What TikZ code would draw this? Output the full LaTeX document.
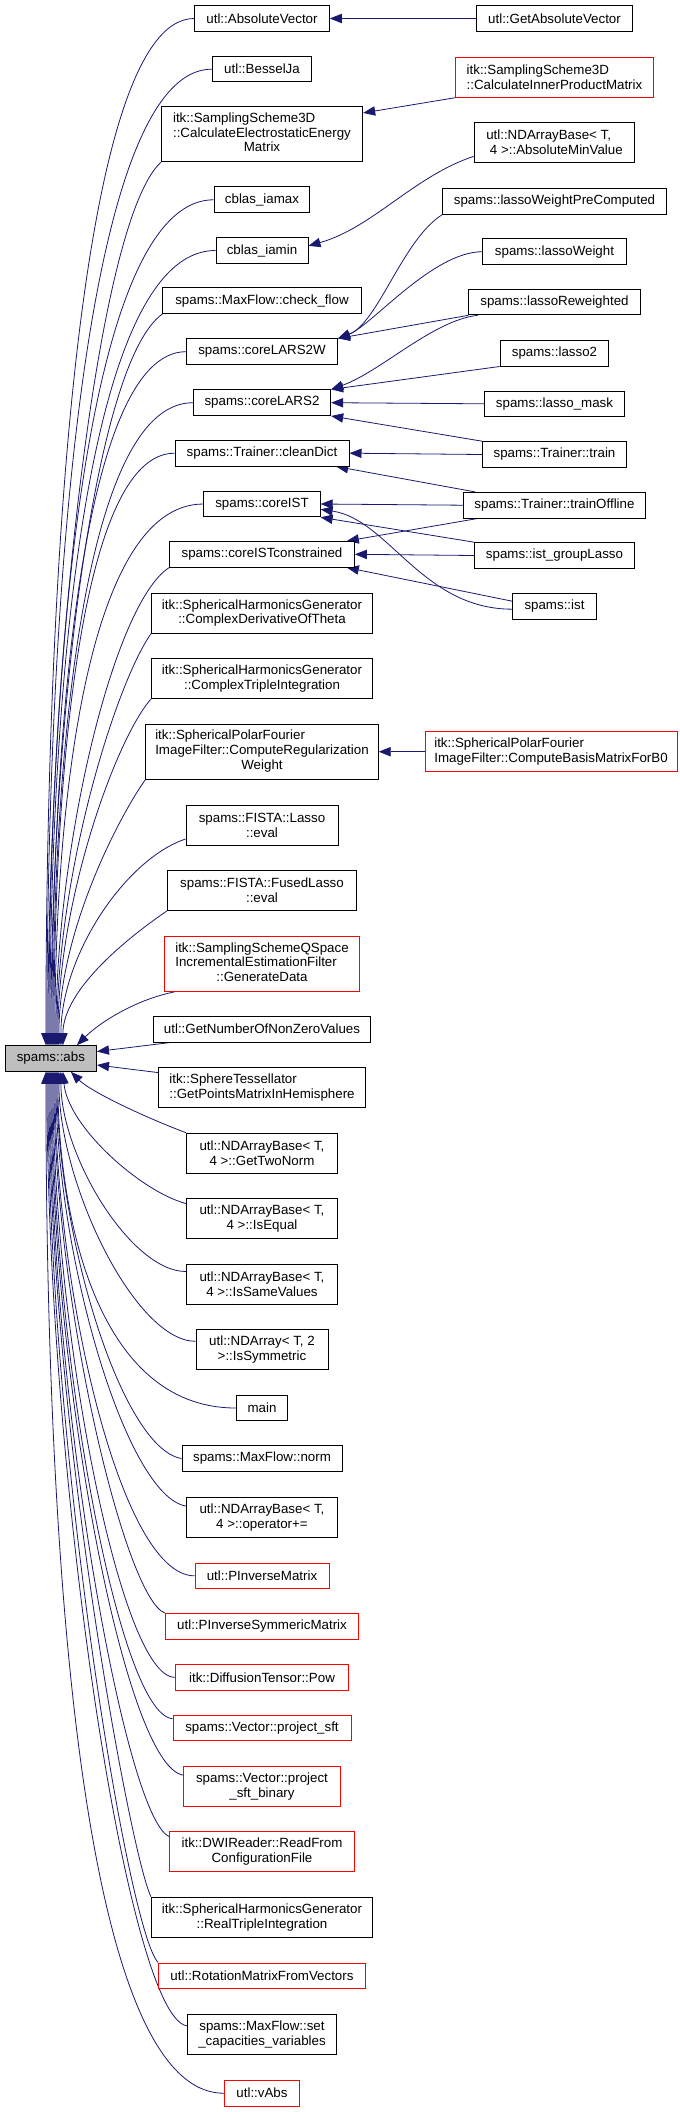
\documentclass[tikz,border=0pt]{standalone}
\usepackage{fontspec}
\setmainfont{Liberation Sans}
\usepackage{tikz}
\usetikzlibrary{calc,arrows.meta}
\pgfdeclarelayer{background}
\pgfsetlayers{background,main}

\definecolor{edgeblue}{HTML}{191970}
\definecolor{rootgray}{HTML}{BFBFBF}
\newcommand{\centerlast}[1]{\multicolumn{1}{@{}c@{}}{#1}}

\tikzset{
  fn/.style={draw=black, line width=0.75pt, fill=white, inner xsep=2pt, inner ysep=1pt,
    minimum height=19.2pt, font=\fontsize{10}{11}\selectfont, align=center},
  fnred/.style={fn, draw=red},
  two/.style={minimum height=30pt},
  three/.style={minimum height=41.3pt},
  call/.style={draw=edgeblue, line width=0.6pt, -{Triangle[length=9pt,width=7pt]}}
}

\begin{document}
\begin{tikzpicture}[x=0.75pt,y=0.75pt]
\useasboundingbox (0,0) rectangle (680,-2112);

% the function itself
\node[fn, fill=rootgray, minimum width=68.4pt] (abs) at (50.9,-1058.5) {spams::abs};

% direct callers
\node[fn, minimum width=101pt] (absvec) at (262,-18.5) {utl::AbsoluteVector};
\node[fn, minimum width=74.6pt] (bessel) at (262,-69.2) {utl::BesselJa};
\node[fn, three, minimum width=151pt] (electro) at (262,-134.3)
  {\begin{tabular}{@{}l@{}}itk::SamplingScheme3D\\::CalculateElectrostaticEnergy\\\centerlast{Matrix}\end{tabular}};
\node[fn, minimum width=71.7pt] (iamax) at (262,-199.8) {cblas\_iamax};
\node[fn, minimum width=69pt] (iamin) at (262,-250.5) {cblas\_iamin};
\node[fn, minimum width=148.7pt] (checkflow) at (262,-300.7) {spams::MaxFlow::check\_flow};
\node[fn, minimum width=113.3pt] (lars2w) at (262,-351.7) {spams::coreLARS2W};
\node[fn, minimum width=103pt] (lars2) at (262,-402.7) {spams::coreLARS2};
\node[fn, minimum width=130.5pt] (cleandict) at (262,-453.2) {spams::Trainer::cleanDict};
\node[fn, minimum width=87.2pt] (coreist) at (262,-504) {spams::coreIST};
\node[fn, minimum width=138.5pt] (istcons) at (262,-554.3) {spams::coreISTconstrained};
\node[fn, two, minimum width=165.8pt] (cderiv) at (262,-613.2) {itk::SphericalHarmonicsGenerator\\::ComplexDerivativeOfTheta};
\node[fn, two, minimum width=165.8pt] (ctriple) at (262,-678.5) {itk::SphericalHarmonicsGenerator\\::ComplexTripleIntegration};
\node[fn, three, minimum width=174.3pt] (regweight) at (262,-751.7)
  {\begin{tabular}{@{}l@{}}itk::SphericalPolarFourier\\ImageFilter::ComputeRegularization\\\centerlast{Weight}\end{tabular}};
\node[fn, two, minimum width=114pt] (fistalasso) at (262,-825.2) {spams::FISTA::Lasso\\::eval};
\node[fn, two, minimum width=141.8pt] (fused) at (262,-890.4) {spams::FISTA::FusedLasso\\::eval};
\node[fnred, three, minimum width=146.3pt] (gendata) at (262,-963.8)
  {\begin{tabular}{@{}l@{}}itk::SamplingSchemeQSpace\\IncrementalEstimationFilter\\\centerlast{::GenerateData}\end{tabular}};
\node[fn, minimum width=162.8pt] (nonzero) at (262,-1029.2) {utl::GetNumberOfNonZeroValues};
\node[fn, two, align=left, minimum width=155.6pt] (sphere) at (262,-1087.7) {itk::SphereTessellator\\::GetPointsMatrixInHemisphere};
\node[fn, two, minimum width=113.3pt] (twonorm) at (262,-1153.2) {utl::NDArrayBase< T,\\4 >::GetTwoNorm};
\node[fn, two, minimum width=113.3pt] (isequal) at (262,-1218.7) {utl::NDArrayBase< T,\\4 >::IsEqual};
\node[fn, two, minimum width=113.3pt] (issame) at (262,-1284) {utl::NDArrayBase< T,\\4 >::IsSameValues};
\node[fn, two, minimum width=99pt] (issym) at (262,-1349.3) {utl::NDArray< T, 2\\>::IsSymmetric};
\node[fn, minimum width=38.5pt] (main) at (262,-1408) {main};
\node[fn, minimum width=120pt] (norm) at (262,-1458.5) {spams::MaxFlow::norm};
\node[fn, two, minimum width=113.3pt] (opplus) at (262,-1517.2) {utl::NDArrayBase< T,\\4 >::operator+=};
\node[fnred, minimum width=100.5pt] (pinv) at (262,-1575.8) {utl::PInverseMatrix};
\node[fnred, minimum width=145pt] (pinvsym) at (262,-1626.3) {utl::PInverseSymmericMatrix};
\node[fnred, minimum width=130pt] (pow) at (262,-1677.3) {itk::DiffusionTensor::Pow};
\node[fnred, minimum width=133.5pt] (projsft) at (262,-1728) {spams::Vector::project\_sft};
\node[fnred, two, minimum width=117.5pt] (projbin) at (262,-1786.3) {spams::Vector::project\\\_sft\_binary};
\node[fnred, two, minimum width=138.5pt] (readfrom) at (262,-1851.7) {itk::DWIReader::ReadFrom\\ConfigurationFile};
\node[fn, two, minimum width=165.8pt] (realtriple) at (262,-1917.2) {itk::SphericalHarmonicsGenerator\\::RealTripleIntegration};
\node[fnred, minimum width=155pt] (rotmat) at (262,-1975.8) {utl::RotationMatrixFromVectors};
\node[fn, two, minimum width=112.1pt] (setcap) at (262,-2034.3) {spams::MaxFlow::set\\\_capacities\_variables};
\node[fnred, minimum width=56.6pt] (vabs) at (262,-2093.2) {utl::vAbs};

% second level callers
\node[fn, minimum width=117.2pt] (getabsvec) at (554.5,-18.5) {utl::GetAbsoluteVector};
\node[fnred, two, align=left, minimum width=148.1pt] (innerprod) at (554.5,-77.2) {itk::SamplingScheme3D\\::CalculateInnerProductMatrix};
\node[fn, two, align=left, minimum width=120.5pt] (absmin) at (554.5,-142.5) {utl::NDArrayBase< T,\\\ 4 >::AbsoluteMinValue};
\node[fn, minimum width=167.3pt] (lwpc) at (554.5,-201.2) {spams::lassoWeightPreComputed};
\node[fn, minimum width=107.3pt] (lw) at (554.5,-251.7) {spams::lassoWeight};
\node[fn, minimum width=128.3pt] (lrw) at (554.5,-302) {spams::lassoReweighted};
\node[fn, minimum width=81.6pt] (lasso2) at (554.5,-353.2) {spams::lasso2};
\node[fn, minimum width=105.3pt] (lassomask) at (554.5,-403.8) {spams::lasso\_mask};
\node[fn, minimum width=107.9pt] (train) at (554.5,-454.5) {spams::Trainer::train};
\node[fn, minimum width=136.5pt] (trainoff) at (554.5,-505.2) {spams::Trainer::trainOffline};
\node[fn, minimum width=119.7pt] (istgroup) at (554.5,-555.5) {spams::ist\_groupLasso};
\node[fn, minimum width=62.9pt] (ist) at (554.5,-606.5) {spams::ist};
\node[fnred, two, align=left, minimum width=189pt] (basisb0) at (551,-751.7) {itk::SphericalPolarFourier\\ImageFilter::ComputeBasisMatrixForB0};

\begin{pgfonlayer}{background}
% callers above spams::abs
\draw[call] (absvec.west) .. controls +(-120,0) and +(0,431) .. ($(abs.north)+(-5,0)$);
\draw[call] (bessel.west) .. controls +(-132,0) and +(0,410) .. ($(abs.north)+(-4,0)$);
\draw[call] (electro.south west) .. controls +(-65,-60) and +(0,371) .. ($(abs.north)+(-3,0)$);
\draw[call] (iamax.west) .. controls +(-132,0) and +(0,355) .. ($(abs.north)+(-2,0)$);
\draw[call] (iamin.west) .. controls +(-133,0) and +(0,334) .. ($(abs.north)+(-1,0)$);
\draw[call] (checkflow.south west) .. controls +(-70,-50) and +(0,308) .. (abs.north);
\draw[call] (lars2w.west) .. controls +(-107,0) and +(0,291) .. ($(abs.north)+(1,0)$);
\draw[call] (lars2.west) .. controls +(-112,0) and +(0,270) .. ($(abs.north)+(2,0)$);
\draw[call] (cleandict.west) .. controls +(-97,0) and +(0,249) .. ($(abs.north)+(3,0)$);
\draw[call] (coreist.west) .. controls +(-119,0) and +(0,228) .. ($(abs.north)+(4,0)$);
\draw[call] (istcons.south west) .. controls +(-55,-35) and +(0,201) .. ($(abs.north)+(5,0)$);
\draw[call] (cderiv.south west) .. controls +(-35,-50) and +(0,173) .. ($(abs.north)+(6,0)$);
\draw[call] (ctriple.south west) .. controls +(-35,-40) and +(0,146) .. ($(abs.north)+(7,0)$);
\draw[call] (regweight.south west) .. controls +(-25,-35) and +(0,115) .. ($(abs.north)+(8,0)$);
\draw[call] ([yshift=5pt]fistalasso.south west) .. controls +(-60,-20) and +(0,90) .. ($(abs.north)+(10,0)$);
\draw[call] (fused.south west) .. controls +(-25,-17) and +(0,60) .. ($(abs.north)+(12,0)$);
\draw[call] ([xshift=8pt]gendata.south west) .. controls +(-40,-8) and +(22,22) .. ($(abs.north)+(26,0)$);
\draw[call] ([xshift=13pt]nonzero.south west) -- ($(abs.east)+(0,7)$);

% callers below spams::abs
\draw[call] ([yshift=-4pt]sphere.north west) -- ($(abs.east)+(0,-6.5)$);
\draw[call] (twonorm.north west) .. controls +(-40,15) and +(20,-20) .. ($(abs.south)+(20,0)$);
\draw[call] ([yshift=-4pt]isequal.north west) .. controls +(-45,12) and +(5,-55) .. ($(abs.south)+(12,0)$);
\draw[call] ([yshift=-6pt]issame.north west) .. controls +(-55,0) and +(0,-84) .. ($(abs.south)+(10,0)$);
\draw[call] ([yshift=6pt]issym.west) .. controls +(-60,0) and +(0,-113) .. ($(abs.south)+(8,0)$);
\draw[call] (main.west) .. controls +(-140,0) and +(0,-141) .. ($(abs.south)+(7,0)$);
\draw[call] (norm.west) .. controls +(-60,10) and +(0,-163) .. ($(abs.south)+(6,0)$);
\draw[call] ([yshift=-7pt]opplus.north west) .. controls +(-60,10) and +(0,-183) .. ($(abs.south)+(5,0)$);
\draw[call] (pinv.west) .. controls +(-75,0) and +(0,-212) .. ($(abs.south)+(4,0)$);
\draw[call] (pinvsym.north west) .. controls +(-40,15) and +(0,-228) .. ($(abs.south)+(3,0)$);
\draw[call] (pow.west) .. controls +(-55,0) and +(0,-255) .. ($(abs.south)+(2,0)$);
\draw[call] ([yshift=-3pt]projsft.north west) .. controls +(-55,5) and +(0,-272) .. ($(abs.south)+(1,0)$);
\draw[call] ([yshift=-7pt]projbin.north west) .. controls +(-60,10) and +(0,-296) .. (abs.south);
\draw[call] ([yshift=-4pt]readfrom.north west) .. controls +(-45,20) and +(0,-321) .. ($(abs.south)+(-1,0)$);
\draw[call] (realtriple.north west) .. controls +(-20,40) and +(0,-347) .. ($(abs.south)+(-2,0)$);
\draw[call] (rotmat.north west) .. controls +(-30,30) and +(0,-375) .. ($(abs.south)+(-3,0)$);
\draw[call] ([yshift=-9pt]setcap.north west) .. controls +(-60,10) and +(0,-401) .. ($(abs.south)+(-4,0)$);
\draw[call] (vabs.west) .. controls +(-150,0) and +(0,-430) .. ($(abs.south)+(-5,0)$);

% second level
\draw[call] (getabsvec.west) -- (absvec.east);
\draw[call] (innerprod.south west) -- ([yshift=-5pt]electro.north east);
\draw[call] ([yshift=5pt]absmin.south west) .. controls +(-60,-20) and +(64,18) .. ([yshift=3.5pt]iamin.east);
\draw[call] (lwpc.south west) .. controls +(-40,-25) and +(40,15) .. (lars2w.north east);
\draw[call] (lw.west) .. controls +(-50,0) and +(34,13) .. (lars2w.north east);
\draw[call] (lrw.south west) -- (lars2w.north east);
\draw[call] ([xshift=7pt]lrw.south west) .. controls +(-45,-5) and +(50,18) .. (lars2.north east);
\draw[call] (lasso2.south west) -- (lars2.north east);
\draw[call] (lassomask.west) -- (lars2.east);
\draw[call] (train.north west) -- (lars2.south east);
\draw[call] (train.west) -- (cleandict.east);
\draw[call] ([xshift=9pt]trainoff.north west) -- ([xshift=-10pt]cleandict.south east);
\draw[call] (trainoff.west) -- (coreist.east);
\draw[call] ([xshift=11pt]trainoff.south west) -- ([xshift=-6pt]istcons.north east);
\draw[call] (istgroup.north west) -- (coreist.south east);
\draw[call] (istgroup.west) -- (istcons.east);
\draw[call] ([yshift=4pt]ist.west) -- ([xshift=-6pt]istcons.south east);
\draw[call] ([yshift=-2pt]ist.west) .. controls +(-90,0) and +(68,-10) .. ([yshift=-4pt]coreist.east);
\draw[call] (basisb0.west) -- (regweight.east);
\end{pgfonlayer}
\end{tikzpicture}
\end{document}
